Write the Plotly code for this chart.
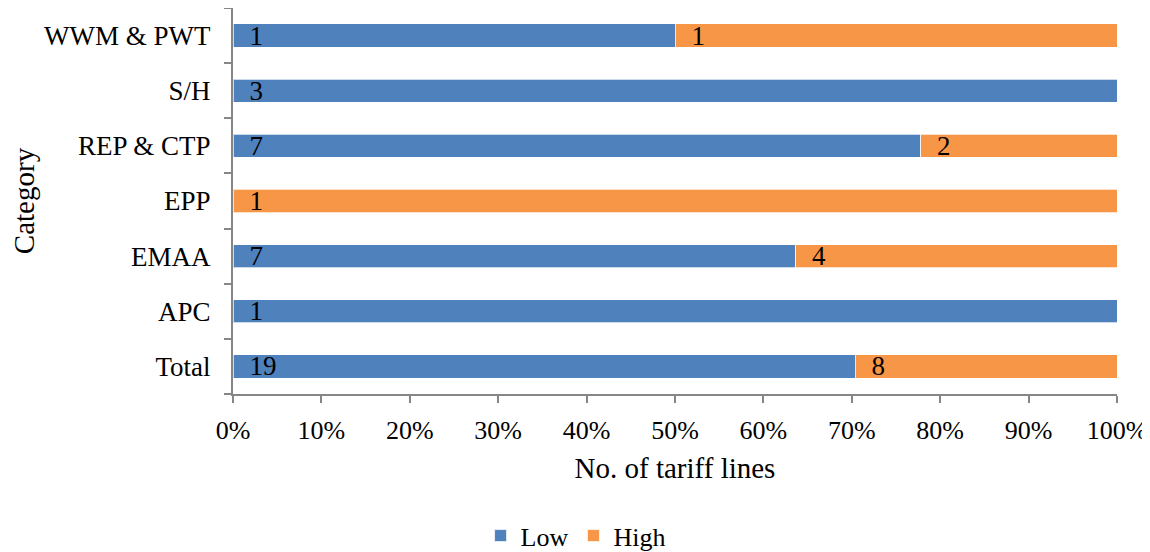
import plotly.graph_objects as go

categories = ["Total", "APC", "EMAA", "EPP", "REP & CTP", "S/H", "WWM & PWT"]
low_counts = [19, 1, 7, 0, 7, 3, 1]
high_counts = [8, 0, 4, 1, 2, 0, 1]
x_tick_vals = [0, 10, 20, 30, 40, 50, 60, 70, 80, 90, 100]
x_tick_text = ["0%", "10%", "20%", "30%", "40%", "50%", "60%", "70%", "80%", "90%", "100%"]

FONT = "Liberation Serif"
PAD = "\u00a0\u00a0"

def labels(vals):
    return [PAD + str(v) if v else "" for v in vals]

fig = go.Figure()
for name, vals, color in [("Low", low_counts, "#4F81BD"), ("High", high_counts, "#F79646")]:
    fig.add_trace(go.Bar(
        y=categories, x=vals, name=name, orientation="h",
        marker=dict(color=color, line=dict(color="rgba(255,255,255,0.7)", width=1)),
        text=labels(vals), textposition="inside", insidetextanchor="start",
        textangle=0, constraintext="none",
        textfont=dict(family=FONT, size=27, color="black"), cliponaxis=False,
    ))

fig.update_layout(
    width=1142, height=544,
    barmode="stack", barnorm="percent", bargap=0.58,
    plot_bgcolor="white", paper_bgcolor="white",
    margin=dict(l=225, r=33, t=0, b=158, autoexpand=False),
    font=dict(family=FONT, color="black"),
    legend=dict(
        orientation="h", xref="container", yref="container",
        x=0.497, xanchor="center", y=0.03, yanchor="middle",
        font=dict(family=FONT, size=26), itemwidth=30,
        traceorder="normal",
    ),
    showlegend=True,
)
fig.update_xaxes(
    range=[0, 100], tickvals=x_tick_vals, ticktext=x_tick_text,
    showgrid=False, zeroline=False,
    showline=True, linecolor="#868686", linewidth=2,
    ticks="outside", ticklen=7, tickcolor="#868686", tickwidth=2,
    tickfont=dict(family=FONT, size=26), ticklabelstandoff=5,
    title=dict(text="No. of tariff lines", font=dict(family=FONT, size=29), standoff=13),
    fixedrange=True,
)
fig.update_yaxes(
    categoryorder="array", categoryarray=categories,
    showgrid=False, zeroline=False,
    showline=True, linecolor="#868686", linewidth=2,
    ticks="outside", ticklen=7, tickcolor="#868686", tickwidth=2,
    tickson="boundaries",
    tickfont=dict(family=FONT, size=27), ticklabelstandoff=15,
    title=dict(text="Category", font=dict(family=FONT, size=29), standoff=21),
    fixedrange=True,
)

fig.write_html("out.html")
